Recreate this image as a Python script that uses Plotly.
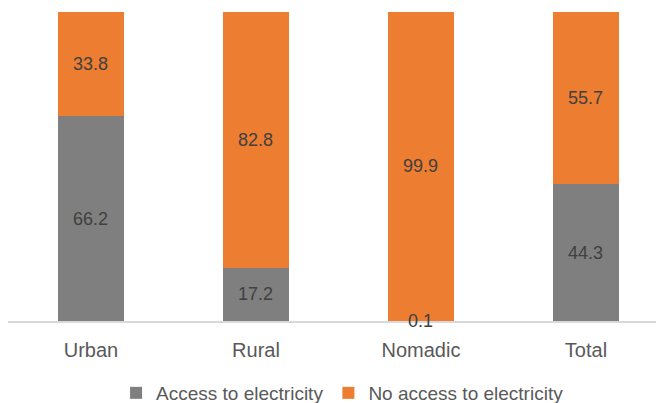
import plotly.graph_objects as go

categories = ["Urban", "Rural", "Nomadic", "Total"]
access = [66.2, 17.2, 0.1, 44.3]
no_access = [33.8, 82.8, 99.9, 55.7]

GRAY = "#7f7f7f"
ORANGE = "#ed7d31"
FONT = "Liberation Sans, Arial, sans-serif"
TXT = "#595959"
LBL = "#404040"

fig = go.Figure()
fig.add_trace(go.Bar(x=categories, y=access, name="Access to electricity",
                     marker=dict(color=GRAY, line=dict(width=0))))
fig.add_trace(go.Bar(x=categories, y=no_access, name="No access to electricity",
                     marker=dict(color=ORANGE, line=dict(width=0))))

anns = []
for c, a, n in zip(categories, access, no_access):
    anns.append(dict(x=c, y=a / 2, text=f"{a:.1f}", showarrow=False,
                     font=dict(size=18, color=LBL, family=FONT)))
    anns.append(dict(x=c, y=a + n / 2, text=f"{n:.1f}", showarrow=False,
                     font=dict(size=18, color=LBL, family=FONT)))

# page body has an 8px margin, so the figure is sized to fit the 664x403 window
fig.update_layout(
    width=656, height=395,
    margin=dict(l=0, r=0, t=4, b=82, autoexpand=False),
    barmode="stack", bargap=0.6,
    plot_bgcolor="white", paper_bgcolor="white",
    font=dict(family=FONT, size=20, color=TXT),
    showlegend=True,
    legend=dict(orientation="h", x=0.51, xanchor="center", y=-0.233, yanchor="middle",
                font=dict(size=19, color=TXT), traceorder="normal"),
    xaxis=dict(showline=True, linecolor="#d9d9d9", linewidth=2, ticks="",
               range=[-0.503, 3.473],
               ticklabelstandoff=10, tickfont=dict(size=20, color=TXT)),
    yaxis=dict(range=[0, 100], visible=False, showgrid=False),
    annotations=anns,
)
fig.write_html("out.html")
